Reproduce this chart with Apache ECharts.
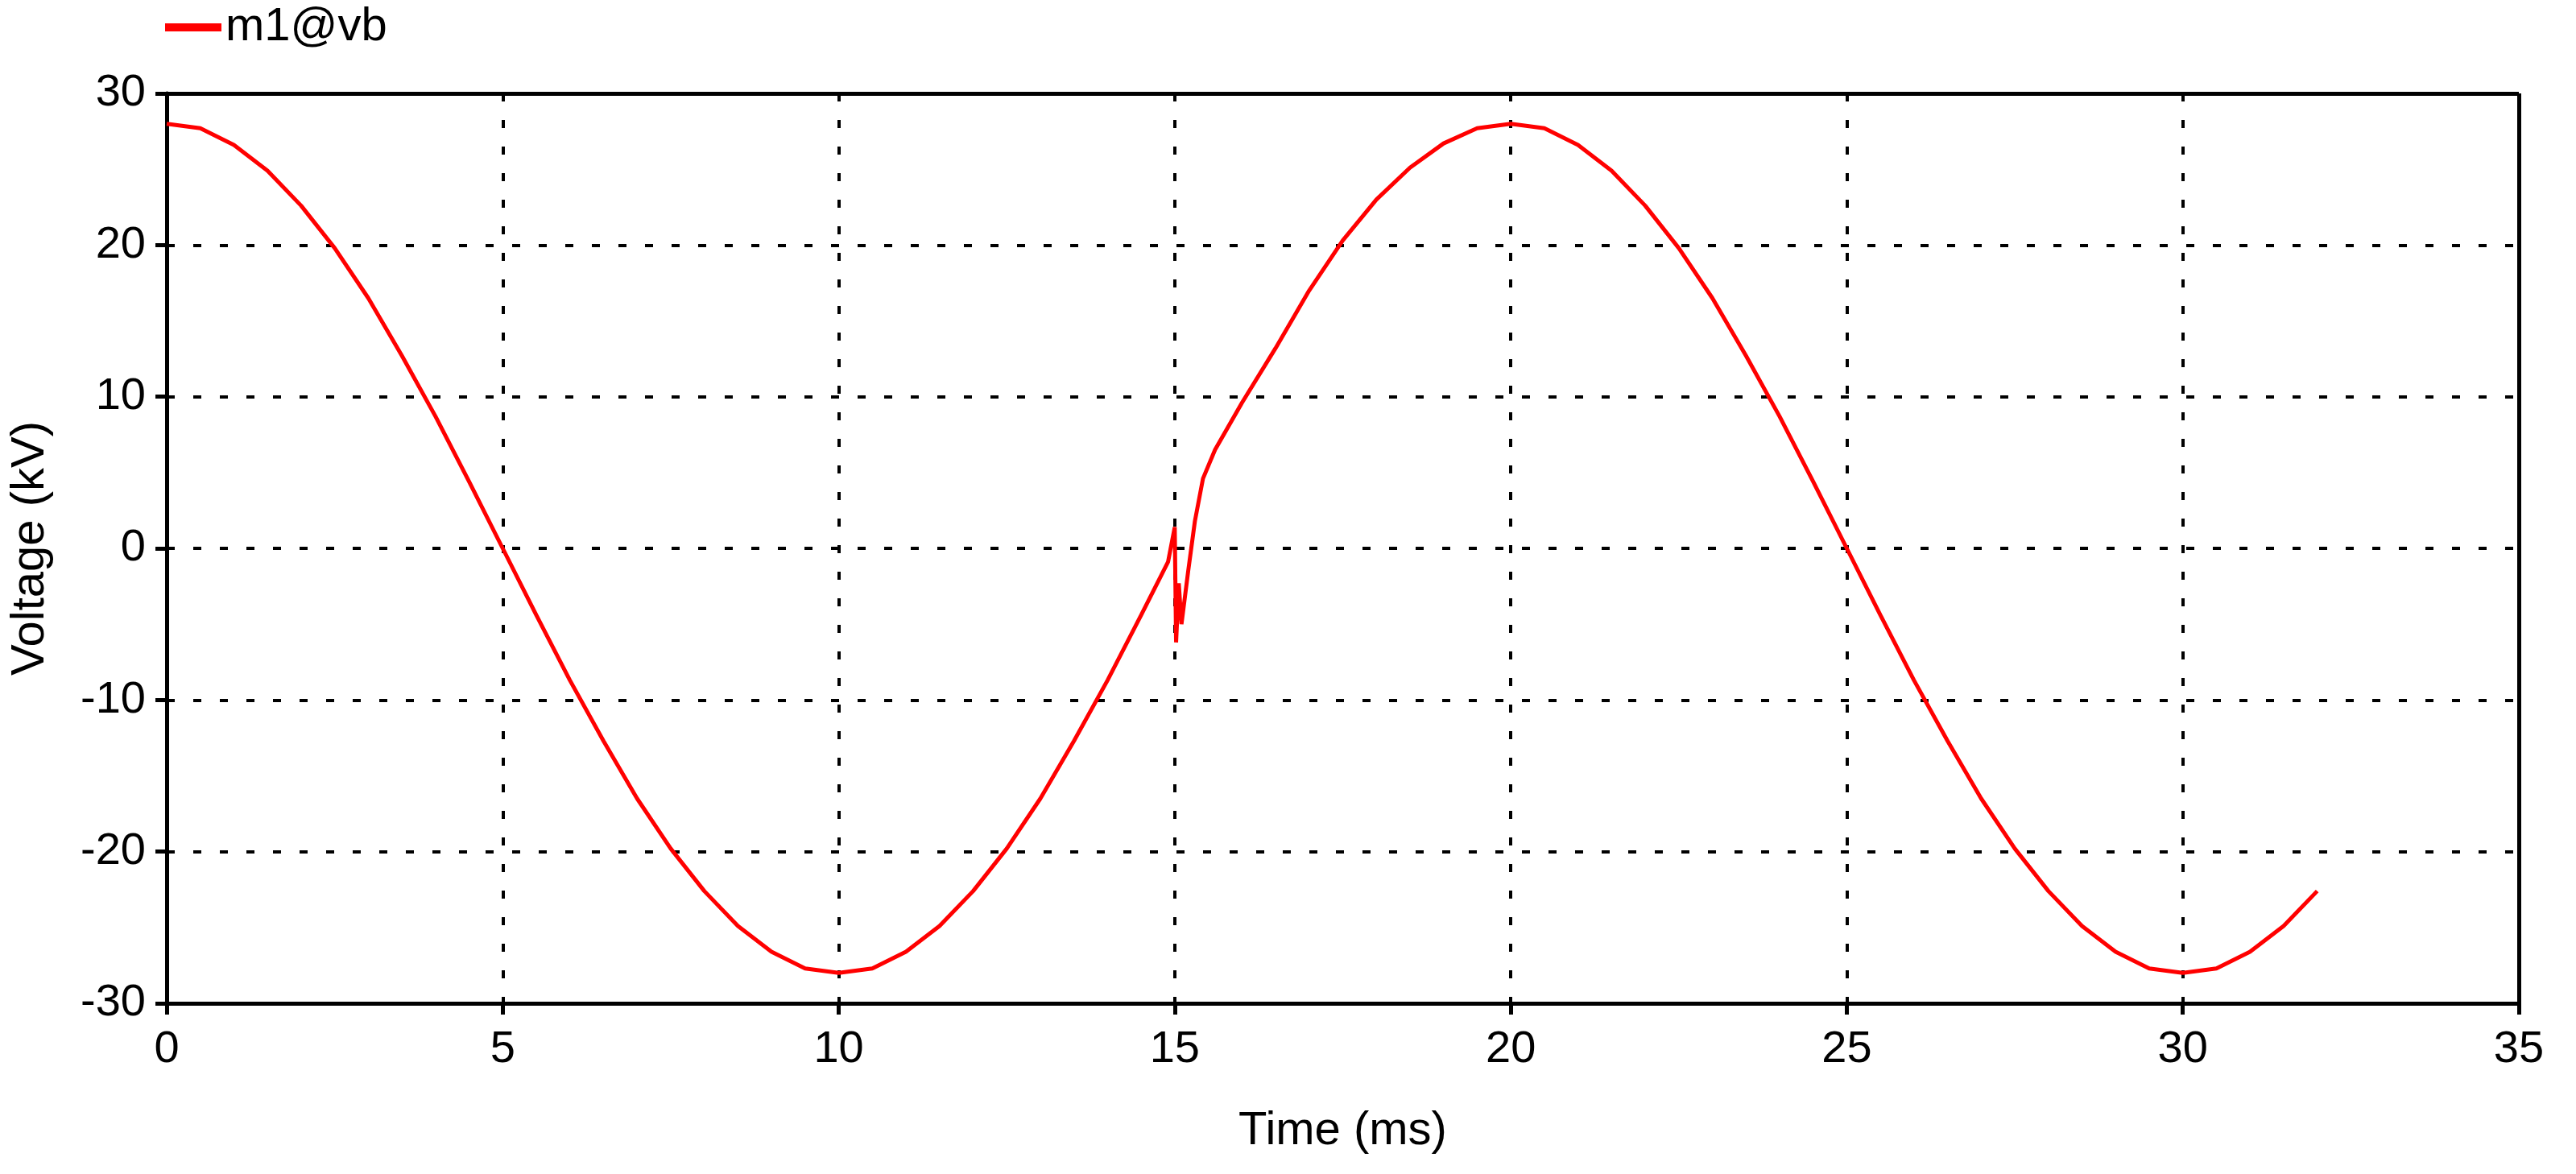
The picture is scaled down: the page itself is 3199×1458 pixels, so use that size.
<!DOCTYPE html>
<html><head><meta charset="utf-8">
<script src="https://cdn.jsdelivr.net/npm/echarts@6/dist/echarts.min.js"></script>
<style>html,body{margin:0;padding:0;background:#fff}#c{width:3199px;height:1458px}</style>
</head><body><div id="c"></div>
<script>
const timeMs = [0,0.5,1,1.5,2,2.5,3,3.5,4,4.5,5,5.5,6,6.5,7,7.5,8,8.5,9,9.5,10,10.5,11,11.5,12,12.5,13,13.5,14,14.5,14.9,15.0,15.02,15.06,15.1,15.2,15.3,15.42,15.6,16,16.5,17,17.5,18,18.5,19,19.5,20,20.5,21,21.5,22,22.5,23,23.5,24,24.5,25,25.5,26,26.5,27,27.5,28,28.5,29,29.5,30,30.5,31,31.5,32];
const voltageKV = [28,27.7,26.6,24.9,22.6,19.8,16.5,12.7,8.7,4.4,0,-4.4,-8.7,-12.7,-16.5,-19.8,-22.6,-24.9,-26.6,-27.7,-28,-27.7,-26.6,-24.9,-22.6,-19.8,-16.5,-12.7,-8.7,-4.4,-0.9,1.4,-6.2,-2.3,-5.0,-1.5,1.8,4.6,6.5,9.6,13.2,17.0,20.3,23.0,25.1,26.7,27.7,28,27.7,26.6,24.9,22.6,19.8,16.5,12.7,8.7,4.4,0,-4.4,-8.7,-12.7,-16.5,-19.8,-22.6,-24.9,-26.6,-27.7,-28,-27.7,-26.6,-24.9,-22.6];
const xTicks = {min:0,max:35,interval:5};
const yTicks = {min:-30,max:30,interval:10};
const seriesName = 'm1@vb';
const font = 'Arial, "Liberation Sans", sans-serif';
const chart = echarts.init(document.getElementById('c'));
const gridLine = {show:true,lineStyle:{color:'#000',width:4,type:[10,23]}};
chart.setOption({
  animation:false,
  legend:{left:200,top:0,itemWidth:70,itemHeight:10,itemGap:20,textStyle:{fontSize:58,fontFamily:font,color:'#000'},
    data:[{name:seriesName,icon:'rect'}]},
  grid:{left:207,right:71,top:116,bottom:212},
  xAxis:{type:'value',min:xTicks.min,max:xTicks.max,interval:xTicks.interval,name:'Time (ms)',nameLocation:'middle',nameGap:130,
    nameTextStyle:{fontSize:58,fontFamily:font,color:'#000'},
    axisLine:{onZero:false,lineStyle:{color:'#000',width:5}},axisTick:{length:14,lineStyle:{width:5,color:'#000'}},
    axisLabel:{fontSize:56,fontFamily:font,color:'#000',margin:30},splitLine:gridLine},
  yAxis:{type:'value',min:yTicks.min,max:yTicks.max,interval:yTicks.interval,name:'Voltage (kV)',nameLocation:'middle',nameGap:140,
    nameTextStyle:{fontSize:58,fontFamily:font,color:'#000'},
    axisLine:{show:true,onZero:false,lineStyle:{color:'#000',width:5}},axisTick:{show:true,length:14,lineStyle:{width:5,color:'#000'}},
    axisLabel:{fontSize:56,fontFamily:font,color:'#000',margin:26},splitLine:gridLine},
  series:[{name:seriesName,type:'line',showSymbol:false,smooth:false,
    lineStyle:{color:'#ff0000',width:5},itemStyle:{color:'#ff0000'},
    data:timeMs.map((t,i)=>[t,voltageKV[i]])},
   {type:'line',data:[],markLine:{silent:true,symbol:'none',label:{show:false},lineStyle:{color:'#000',width:5,type:'solid'},
    data:[[{coord:[0,30]},{coord:[35,30]}],[{coord:[35,-30]},{coord:[35,30]}]]}}]
});
</script></body></html>
